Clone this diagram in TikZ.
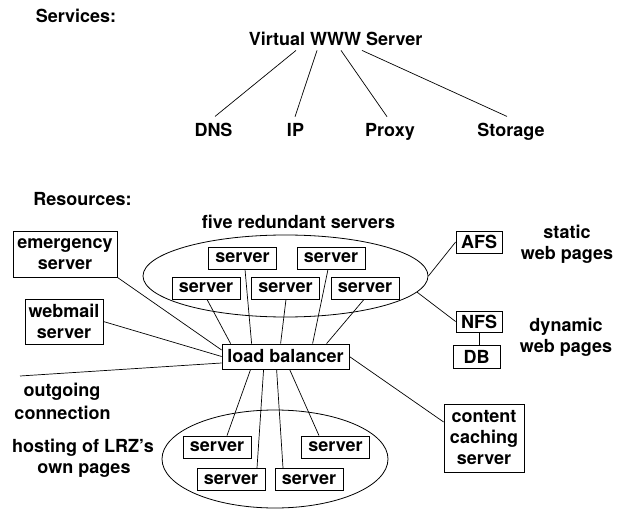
\documentclass[tikz,border=0pt]{standalone}
\usepackage{fontspec}
\setmainfont{TeX Gyre Heros}
\usetikzlibrary{shapes.geometric}
\tikzset{
  every node/.style={font=\fontsize{18}{21}\selectfont\bfseries},
  lbl/.style={inner sep=0pt, anchor=base},
  boxed/.style={draw, line width=0.8pt, inner sep=0pt, align=center},
  srv/.style={boxed, minimum width=68pt, minimum height=22pt},
  ln/.style={line width=0.7pt},
  oval/.style={draw, line width=0.8pt, ellipse, inner sep=0pt}
}
\begin{document}
\begin{tikzpicture}[x=1pt,y=-1pt]
\useasboundingbox (0,0) rectangle (628,510);
% Services
\node[lbl] (services) at (76,23) {Services:};
\node[lbl] (V) at (335.5,46) {Virtual WWW Server};
\node[lbl] (dns) at (213.5,137) {DNS};
\node[lbl] (ip) at (295.5,137) {IP};
\node[lbl] (proxy) at (390,137) {Proxy};
\node[lbl] (storage) at (511,137) {Storage};
\draw[ln] ([shift={(-39.5,4)}]V.south) -- ([shift={(1.5,-7)}]dns.north);
\draw[ln] ([shift={(-18.5,4)}]V.south) -- ([shift={(-0.5,-7)}]ip.north);
\draw[ln] ([shift={(5.5,4)}]V.south) -- ([shift={(-3,-7)}]proxy.north);
\draw[ln] ([shift={(26.5,4)}]V.south) -- ([shift={(-4,-7)}]storage.north);
% Resources
\node[lbl] (resources) at (82.5,206) {Resources:};
\node[lbl] (five) at (298.5,229) {five redundant servers};
\node[oval, minimum width=285pt, minimum height=82pt] (E1) at (285.5,276) {};
\node[srv] (t1) at (242.5,258) {server};
\node[srv] (t2) at (331,258) {server};
\node[srv] (t3) at (206,288) {server};
\node[srv] (t4) at (285.5,288) {server};
\node[srv] (t5) at (365,288) {server};
\node[boxed, minimum width=127pt, minimum height=25pt] (LB) at (285.5,356.5) {load balancer};
\node[boxed, minimum width=104pt, minimum height=46pt] (emg) at (65,254) {emergency\\server};
\node[boxed, minimum width=78pt, minimum height=45pt] (web) at (64,321.5) {webmail\\server};
\coordinate (out) at (20,376);
\node[lbl] (outg1) at (62,396) {outgoing};
\node[lbl] (outg2) at (62.5,419) {connection};
\node[boxed, minimum width=46pt, minimum height=22pt] (afs) at (479,242) {AFS};
\node[boxed, minimum width=46pt, minimum height=21pt] (nfs) at (479,321.5) {NFS};
\node[boxed, minimum width=47pt, minimum height=23pt] (db) at (476.5,356.5) {DB};
\node[lbl] (st1) at (567,239) {static};
\node[lbl] (st2) at (567,259) {web pages};
\node[lbl] (dy1) at (566,331) {dynamic};
\node[lbl] (dy2) at (566,352) {web pages};
\node[boxed, minimum width=80pt, minimum height=68pt] (cc) at (484,438) {content\\caching\\server};
\node[oval, minimum width=226pt, minimum height=98pt] (E2) at (275,459) {};
\node[srv] (b1) at (217,447) {server};
\node[srv] (b2) at (335.5,447) {server};
\node[srv] (b3) at (231,479.5) {server};
\node[srv] (b4) at (309,479.5) {server};
\node[lbl] (h1) at (83,452) {hosting of LRZ's};
\node[lbl] (h2) at (84,473) {own pages};
% connectors
\draw[ln] ([xshift=1pt]t3.south) -- ([xshift=9pt]LB.north west);
\draw[ln] ([xshift=2.5pt]t1.south) -- ([xshift=30pt]LB.north west);
\draw[ln] ([xshift=0.5pt]t4.south) -- ([xshift=59pt]LB.north west);
\draw[ln] ([xshift=-3pt]t2.south) -- ([xshift=91pt]LB.north west);
\draw[ln] ([xshift=-1pt]t5.south) -- ([xshift=105pt]LB.north west);
\draw[ln] ([xshift=29pt]LB.south west) -- ([xshift=10pt]b1.north);
\draw[ln] ([xshift=42pt]LB.south west) -- ([xshift=26pt]b3.north);
\draw[ln] ([xshift=55pt]LB.south west) -- ([xshift=-26pt]b4.north);
\draw[ln] ([xshift=68pt]LB.south west) -- ([xshift=-16.5pt]b2.north);
\draw[ln] (emg.south east) -- ([yshift=6.5pt]LB.west);
\draw[ln] (web.east) -- (LB.west);
\draw[ln] (out) -- ([yshift=-6.5pt]LB.west);
\draw[ln] (E1.east) -- (afs.west);
\draw[ln] (E1.-7.5) -- (nfs.west);
\draw[ln] (nfs.south) -- (nfs.south |- db.north);
\draw[ln] (LB.east) -- ([yshift=16pt]cc.west);
\end{tikzpicture}
\end{document}
